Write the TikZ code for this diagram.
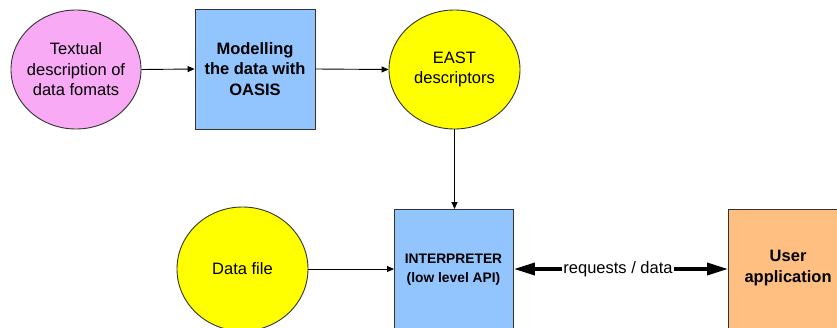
\documentclass[tikz,border=0pt]{standalone}
\usepackage{fontspec}
\setmainfont{Liberation Sans}
\usetikzlibrary{arrows.meta,shapes.geometric}
\definecolor{pinkfill}{HTML}{F9AAF5}
\definecolor{bluefill}{HTML}{92C4FE}
\definecolor{yellowfill}{HTML}{FFFF00}
\definecolor{orangefill}{HTML}{FFBF80}
\definecolor{edgegray}{HTML}{333333}
\tikzset{
  txt/.style={font=\fontsize{16.5}{20.5}\selectfont, align=center, text=black},
  oval/.style={ellipse, draw=edgegray, line width=0.9pt, inner sep=0pt},
  procbox/.style={rectangle, draw=edgegray, line width=0.9pt, inner sep=0pt, txt, font=\fontsize{16.5}{20.5}\selectfont\bfseries},
  flow/.style={draw=black, line width=0.9pt, -{Triangle[length=7pt,width=6pt]}},
  bigflow/.style={draw=black, line width=3.5pt, {Triangle[length=21pt,width=12pt]}-{Triangle[length=21pt,width=12pt]}}
}
\begin{document}
\begin{tikzpicture}[x=1pt,y=-1pt]
  \clip (0,0) rectangle (837,327);
  \fill[white] (0,0) rectangle (837,327);
  % top row
  \node[oval, fill=pinkfill, minimum width=130pt, minimum height=119pt,
        label={[txt]center:{Textual\\description of\\data fomats}}] (txtdesc) at (76,69.5) {};
  \node[procbox, fill=bluefill, minimum width=120pt, minimum height=120pt] (model) at (255,69)
    {Modelling\\the data with\\OASIS};
  \node[oval, fill=yellowfill, minimum width=131pt, minimum height=119pt,
        label={[txt]center:{EAST\\descriptors}}] (east) at (454.5,69.5) {};
  % bottom row
  \node[oval, fill=yellowfill, minimum width=131pt, minimum height=124pt,
        label={[txt]center:{Data file}}] (datafile) at (242.5,269) {};
  \node[procbox, fill=bluefill, minimum width=119pt, minimum height=160pt, anchor=north west] (interp) at (394,209) {};
  \node[txt, font=\fontsize{13.8}{18.5}\selectfont\bfseries] (interptxt) at (453.5,269.5)
    {INTERPRETER\\(low level API)};
  \node[procbox, fill=orangefill, minimum width=160pt, minimum height=160pt, anchor=north west] (user) at (728,209) {};
  \node[txt, font=\fontsize{16.5}{20.5}\selectfont\bfseries, anchor=west] (usertxt) at (741,268)
    {User\\application};
  % connectors
  \draw[flow] (txtdesc.east) -- (model.west);
  \draw[flow] (model.east) -- (east.west);
  \draw[flow] (east.south) -- (interp.north -| east.south);
  \draw[flow] (datafile.east) -- (datafile.east -| interp.west);
  \coordinate (ia) at (interp.east |- 0,269);
  \coordinate (ua) at (user.west |- 0,269);
  \draw[bigflow] (ia) -- (ua);
  \node[txt, fill=white, inner sep=1pt] (reqlbl) at (618,269) {requests / data};
\end{tikzpicture}
\end{document}
